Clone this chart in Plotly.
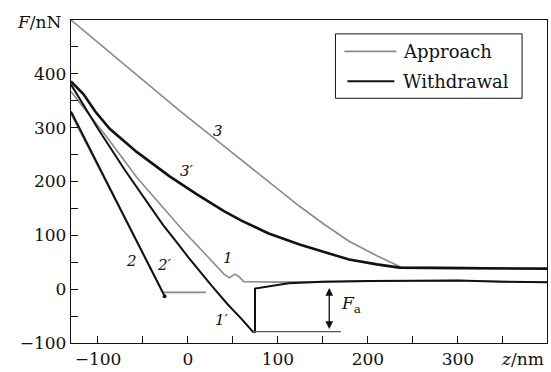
import plotly.graph_objects as go

# ---------------- data ----------------
# curve 3 (approach, gray)
z3 = [-130, -100, -63, -30, -9, 30, 60, 95, 124, 150, 179, 210, 238, 300, 399]
F3 = [500, 458, 408, 361, 331, 279, 239, 193, 154, 122, 89, 62, 40, 40, 39]
# curve 3' (withdrawal, black)
z3p = [-130, -116, -103, -87, -57, -20, 10, 40, 60, 89, 124, 150, 179, 210, 235, 300, 399]
F3p = [386, 362, 330, 298, 255, 209, 176, 145, 127, 104, 83, 70, 55, 46, 40, 39, 38]
# curve 1 (approach, gray)
z1 = [-130, -90, -57, -30, -5, 20, 40, 46, 52, 56, 62, 100, 150, 250, 300, 350, 399]
F1 = [367, 282, 208, 155, 108, 64, 28, 21, 28, 24, 14, 13, 14, 16, 16, 14, 13]
# curve 1' (withdrawal, black)
z1p = [-130, -100, -70, -40, -28, -10, 0, 26, 44, 60, 72, 74.5, 74.5, 112, 150, 200, 250, 300, 350, 399]
F1p = [380, 298, 221, 149, 120, 82, 60, 7, -28, -56, -79, -79, 1, 11, 14, 15, 16, 16, 14, 13]
# curve 2 (approach, gray)
z2 = [-130, -28, -26, 20]
F2 = [326, -5, -6, -6]
# curve 2' (withdrawal, black)
z2p = [-130, -26]
F2p = [330, -13]
# adhesion-force reference level
za = [72, 170]
Fa_level = [-79, -79]
Fa_arrow_z = 157
Fa_arrow_F = [5, -74]

# curve labels
lab_text = ["3", "3′", "1", "1′", "2", "2′"]
lab_z = [33, -1, 44, 38, -63, -26]
lab_F = [294, 220, 57, -58, 52, 44]

x_ticks = [-100, 0, 100, 200, 300]
x_tick_text = ["−100", "0", "100", "200", "300"]
y_ticks = [-100, 0, 100, 200, 300, 400]
y_tick_text = ["−100", "0", "100", "200", "300", "400"]

GRAY = "#8a8a8a"
BLACK = "#111111"
FONT = "DejaVu Serif"

fig = go.Figure()
fig.add_trace(go.Scatter(x=z3, y=F3, mode="lines", line=dict(color=GRAY, width=1.6), showlegend=False))
fig.add_trace(go.Scatter(x=z1, y=F1, mode="lines", line=dict(color=GRAY, width=1.6), showlegend=False))
fig.add_trace(go.Scatter(x=z2, y=F2, mode="lines", line=dict(color=GRAY, width=1.8), showlegend=False))
fig.add_trace(go.Scatter(x=z3p, y=F3p, mode="lines", line=dict(color=BLACK, width=2.6), showlegend=False))
fig.add_trace(go.Scatter(x=z1p, y=F1p, mode="lines", line=dict(color=BLACK, width=2.0), showlegend=False))
fig.add_trace(go.Scatter(x=z2p, y=F2p, mode="lines", line=dict(color=BLACK, width=2.0), showlegend=False))
fig.add_trace(go.Scatter(x=[z2p[-1]], y=[F2p[-1]], mode="markers",
                         marker=dict(color=BLACK, size=4), showlegend=False))
fig.add_trace(go.Scatter(x=za, y=Fa_level, mode="lines", line=dict(color="#555555", width=1.2), showlegend=False))

# double-headed arrow for F_a
fig.add_annotation(x=Fa_arrow_z, y=Fa_arrow_F[1], ax=Fa_arrow_z, ay=Fa_arrow_F[0],
                   xref="x", yref="y", axref="x", ayref="y", text="", showarrow=True,
                   arrowhead=2, startarrowhead=2, arrowside="end+start", arrowsize=1.2,
                   arrowwidth=1.3, arrowcolor=BLACK, standoff=0, startstandoff=0)
fig.add_annotation(x=181, y=-28, xref="x", yref="y", text="<i>F</i><sub>a</sub>", showarrow=False,
                   font=dict(family=FONT, size=17, color=BLACK))

for t, zz, ff in zip(lab_text, lab_z, lab_F):
    fig.add_annotation(x=zz, y=ff, xref="x", yref="y", text="<i>%s</i>" % t, showarrow=False,
                       font=dict(family=FONT, size=15, color=BLACK))

# axis-name labels
fig.add_annotation(x=-0.016, y=0.995, xref="paper", yref="paper", xanchor="right", yanchor="middle",
                   text="<i>F</i>/nN", showarrow=False, font=dict(family=FONT, size=17, color=BLACK))
fig.add_annotation(x=0.948, y=-0.048, xref="paper", yref="paper", xanchor="center", yanchor="middle",
                   text="<i>z</i>/nm", showarrow=False, font=dict(family=FONT, size=17, color=BLACK))

# manual legend
fig.add_shape(type="rect", xref="paper", yref="paper", x0=0.5556, x1=0.9476, y0=0.7577, y1=0.957,
              line=dict(color=BLACK, width=1), fillcolor="white")
fig.add_shape(type="line", xref="paper", yref="paper", x0=0.5744, x1=0.6834, y0=0.9028, y1=0.9028,
              line=dict(color=GRAY, width=1.6))
fig.add_shape(type="line", xref="paper", yref="paper", x0=0.5807, x1=0.6792, y0=0.8107, y1=0.8107,
              line=dict(color=BLACK, width=2))
fig.add_annotation(x=0.6933, y=0.9028, xref="paper", yref="paper", xanchor="left", yanchor="middle",
                   text="Approach", showarrow=False, font=dict(family=FONT, size=18, color=BLACK))
fig.add_annotation(x=0.6933, y=0.8107, xref="paper", yref="paper", xanchor="left", yanchor="middle",
                   text="Withdrawal", showarrow=False, font=dict(family=FONT, size=18, color=BLACK))

axis_common = dict(showgrid=False, zeroline=False, showline=True, linecolor=BLACK, linewidth=1.3,
                   mirror=True, ticks="inside", ticklen=7, tickwidth=1.2, tickcolor=BLACK,
                   tickfont=dict(family=FONT, size=17, color=BLACK),
                   minor=dict(ticks="inside", ticklen=7, tickwidth=1.2, tickcolor=BLACK, dtick=50, showgrid=False))
fig.update_xaxes(range=[-130, 399], tickvals=x_ticks, ticktext=x_tick_text, **axis_common)
fig.update_yaxes(range=[-100, 500], tickvals=y_ticks, ticktext=y_tick_text, **axis_common)
fig.update_xaxes(minor=dict(tick0=-150))
fig.update_yaxes(minor=dict(tick0=-100))

fig.update_layout(width=551, height=372, margin=dict(l=71, r=3, t=20, b=26),
                  paper_bgcolor="white", plot_bgcolor="white", showlegend=False,
                  font=dict(family=FONT, color=BLACK))
fig.write_html("out.html")
